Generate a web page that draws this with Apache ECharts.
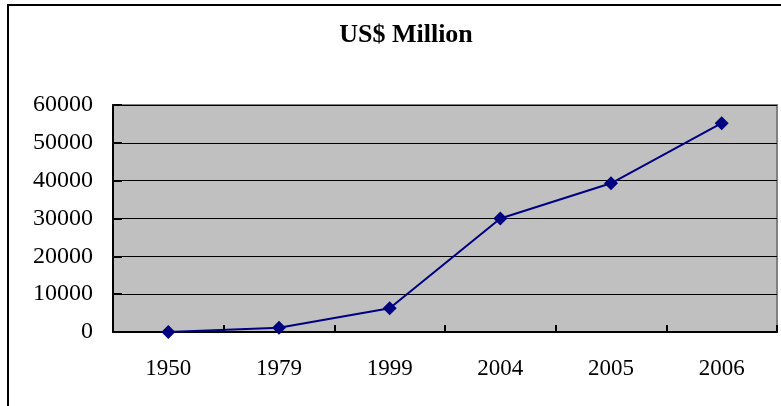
<!DOCTYPE html>
<html>
<head>
<meta charset="utf-8">
<script src="https://cdn.jsdelivr.net/npm/echarts@6/dist/echarts.min.js"></script>
<style>
html,body{margin:0;padding:0;background:#fff;}
#chart{width:781px;height:406px;}
</style>
</head>
<body>
<div id="chart"></div>
<script>
const titleText = 'US$ Million';
const years = ['1950', '1979', '1999', '2004', '2005', '2006'];
const values = [0, 1100, 6300, 30000, 39300, 55200];
const yTicks = { min: 0, max: 60000, interval: 10000 };

const serif = '"Liberation Serif", "Times New Roman", serif';
const chart = echarts.init(document.getElementById('chart'));
chart.setOption({
  backgroundColor: '#ffffff',
  animation: false,
  title: {
    text: titleText,
    left: 401,
    textAlign: 'center',
    top: 17,
    textStyle: { fontFamily: serif, fontWeight: 'bold', fontSize: 26, color: '#000' }
  },
  graphic: [{
    type: 'polyline',
    shape: { points: [[8, 420], [8, 5], [790, 5]] },
    style: { stroke: '#000', lineWidth: 2, fill: null }
  }],
  grid: {
    left: 113, right: 4, top: 105, bottom: 74,
    show: true, backgroundColor: '#c0c0c0', borderColor: '#808080', borderWidth: 2
  },
  xAxis: {
    type: 'category',
    data: years,
    boundaryGap: true,
    axisLine: { show: true, lineStyle: { color: '#000', width: 2 } },
    axisTick: { show: true, inside: true, length: 7, lineStyle: { color: '#000', width: 2 } },
    axisLabel: { fontFamily: serif, fontSize: 23, color: '#000', margin: 25 },
    splitLine: { show: false }
  },
  yAxis: {
    type: 'value',
    min: yTicks.min, max: yTicks.max, interval: yTicks.interval,
    axisLine: { show: true, lineStyle: { color: '#000', width: 2 } },
    axisTick: { show: true, inside: true, length: 9, lineStyle: { color: '#000', width: 2 } },
    axisLabel: { fontFamily: serif, fontSize: 24, color: '#000', margin: 20, formatter: v => String(v) },
    splitLine: { show: true, lineStyle: { color: '#000', width: 1 } }
  },
  series: [{
    type: 'line',
    data: values,
    symbol: 'diamond',
    symbolSize: 14,
    lineStyle: { color: '#000080', width: 2 },
    itemStyle: { color: '#000080' }
  }]
});
</script>
</body>
</html>
